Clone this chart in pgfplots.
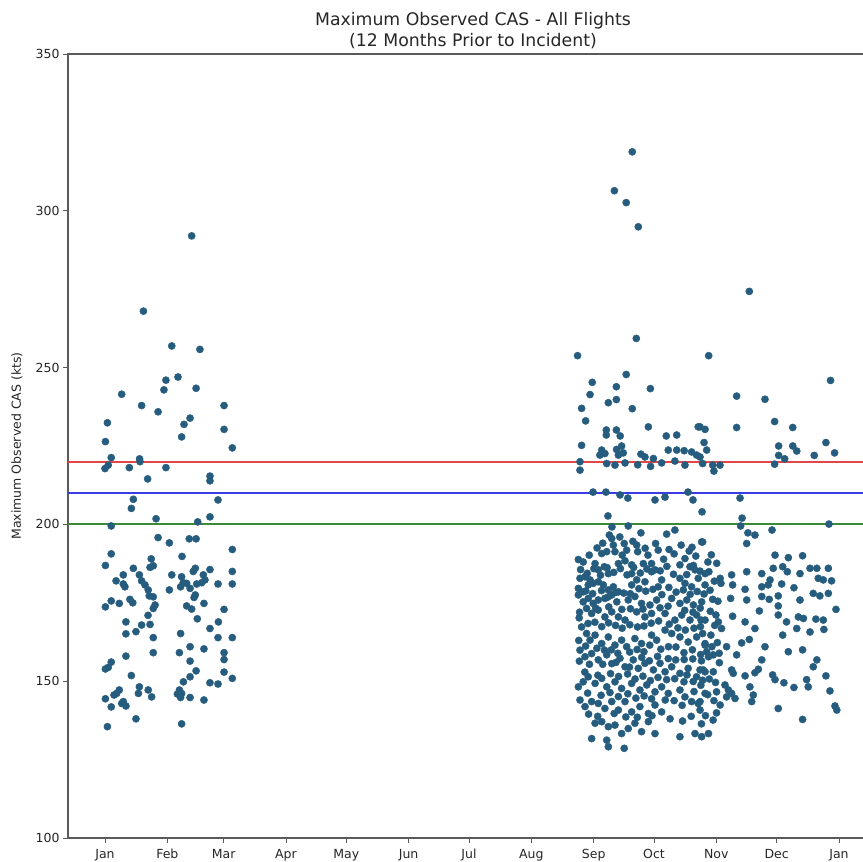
\documentclass[border=0pt]{standalone}
\usepackage{pgfplots}
\pgfplotsset{compat=1.18}
\usepackage{pgfplotstable}
\usepackage{fontspec}
\setmainfont{DejaVu Sans}
\definecolor{dot}{RGB}{38,92,126}
\definecolor{lred}{RGB}{226,70,70}
\definecolor{lblue}{RGB}{60,60,228}
\definecolor{lgreen}{RGB}{58,138,58}
\definecolor{spine}{RGB}{90,90,90}

\pgfplotstableread{
day val
43.1 292.0
19.1 268.0
33.2 256.9
47.2 255.8
30.3 246.0
36.3 247.0
29.3 242.9
45.3 243.4
8.3 241.5
18.2 237.9
26.4 235.9
59.2 237.9
1.2 232.4
42.3 233.9
39.3 231.9
59.2 230.3
38.1 227.9
0.2 226.4
63.3 224.4
3.1 221.3
17.2 220.9
17.4 220.0
1.6 218.9
0.0 217.8
12.1 218.1
30.3 218.1
21.2 214.5
52.2 215.4
52.2 213.9
14.1 208.0
13.1 205.1
56.2 207.8
25.4 201.8
46.1 200.8
52.2 202.4
3.1 199.5
26.4 195.8
32.0 194.1
41.9 195.4
45.3 195.4
63.3 192.0
3.1 190.6
38.3 189.8
0.2 186.9
23.0 189.0
22.4 186.3
24.0 186.8
14.1 186.0
44.9 186.0
43.9 185.0
52.2 185.6
63.3 185.0
9.1 183.9
17.1 183.9
33.2 183.9
38.1 183.3
38.9 181.4
37.6 180.1
48.9 183.9
49.7 182.3
48.1 181.4
45.6 181.0
5.5 182.0
9.1 181.0
9.9 180.1
18.2 182.0
19.9 180.7
21.5 179.1
56.2 181.0
63.3 181.0
32.0 179.1
42.3 179.6
40.6 181.2
22.0 177.2
24.0 176.9
44.9 177.5
44.3 176.7
12.4 176.1
13.8 175.0
3.1 175.6
7.1 174.8
0.2 173.7
24.9 174.3
24.0 173.2
40.6 174.0
43.1 173.0
49.2 174.8
59.2 172.9
21.4 171.0
45.9 169.9
10.4 168.9
18.2 167.9
22.4 168.1
56.4 168.9
52.2 166.8
15.4 165.8
10.4 165.1
37.6 165.2
24.0 163.9
56.2 163.9
63.3 163.9
42.3 161.0
49.2 160.3
37.0 159.1
24.0 159.1
59.2 159.1
59.2 156.9
10.4 158.0
42.3 156.4
3.1 156.1
0.2 153.9
1.6 154.4
45.3 153.3
42.3 151.4
39.0 149.8
59.2 152.9
13.1 151.8
63.3 150.9
52.2 149.5
56.2 149.1
17.1 148.2
16.6 146.1
21.5 147.2
23.2 145.0
7.1 147.2
5.8 146.1
4.5 145.6
37.0 147.2
36.0 145.9
38.1 146.1
37.6 144.8
42.3 144.8
49.2 144.0
0.2 144.4
9.1 143.5
10.4 142.1
8.3 142.9
3.1 141.8
15.4 138.0
1.2 135.5
38.1 136.4
}\earlyflights

\pgfplotstableread{
day val
262.2 318.8
253.3 306.4
259.2 302.6
265.2 294.9
264.2 259.3
235.0 253.8
259.2 247.8
242.3 245.3
254.3 243.9
271.2 243.3
241.2 241.4
254.3 239.8
250.3 238.8
237.0 237.0
262.2 236.9
239.0 233.0
270.2 231.1
249.3 230.1
249.3 228.5
254.3 230.1
256.2 228.2
279.1 228.2
284.3 228.5
295.0 231.1
237.0 225.2
247.0 223.7
248.6 222.6
246.1 222.1
254.4 223.9
256.9 225.0
255.3 222.1
257.7 222.8
266.5 222.4
268.5 221.5
272.7 221.0
280.1 223.7
284.3 223.7
288.0 223.5
291.7 223.1
294.2 222.1
320.4 274.3
300.2 253.8
360.8 245.9
314.1 240.9
328.2 239.9
333.0 232.8
314.1 230.9
342.0 230.9
295.9 231.1
298.4 230.3
297.9 226.1
299.2 223.7
335.0 225.0
335.0 222.0
338.0 220.9
342.0 225.0
344.0 223.4
358.5 226.1
362.8 222.8
352.7 222.0
295.9 221.5
297.2 219.4
302.2 218.9
333.0 219.2
236.2 220.0
236.2 217.3
249.5 219.4
253.6 218.9
258.6 219.6
264.9 219.0
271.3 218.5
276.8 219.6
283.4 220.2
288.4 218.9
242.7 210.3
249.1 210.3
256.1 209.4
260.0 208.4
250.1 202.7
252.1 199.2
273.5 207.8
278.5 208.7
289.9 210.3
292.4 207.8
296.9 204.0
302.8 217.0
305.8 218.9
315.8 208.4
316.8 202.0
319.7 197.3
331.7 198.2
360.0 200.1
}\lateupper

\pgfplotstableread{
day val
260.2 199.5
266.5 197.3
279.3 196.9
283.4 198.2
296.7 194.4
252.0 195.5
252.8 193.4
253.6 191.3
258.2 193.9
259.4 191.8
257.2 190.2
264.4 193.4
264.9 191.3
273.8 193.9
275.1 191.8
280.5 192.0
247.0 190.7
249.5 191.3
235.4 188.8
237.8 188.0
243.7 187.5
245.3 185.5
248.3 186.5
250.3 184.3
255.3 187.5
258.6 188.4
261.9 187.1
267.7 187.5
271.8 187.5
273.5 185.5
285.9 187.1
288.4 189.1
290.9 186.5
293.4 185.5
298.4 184.3
236.2 182.8
238.7 183.3
241.2 182.3
235.4 179.6
237.8 178.5
240.3 180.7
242.8 181.2
245.3 181.7
247.8 180.7
250.3 179.1
252.8 180.1
255.3 178.5
261.9 184.3
264.4 182.3
261.9 180.7
268.5 181.7
271.8 184.9
276.8 182.3
275.1 180.1
285.9 182.8
288.4 181.2
291.7 180.1
295.0 182.8
298.4 180.7
235.4 177.5
237.8 175.3
240.3 176.4
242.8 174.8
245.3 175.9
248.6 176.4
252.0 177.5
254.5 175.3
260.2 175.9
263.5 177.0
266.8 174.8
271.0 174.3
274.3 175.9
281.8 176.4
285.9 174.8
289.3 175.9
292.6 174.3
296.7 175.3
239.5 173.2
242.0 171.6
245.3 172.7
248.6 170.5
252.0 172.1
255.3 170.5
258.6 169.5
264.4 172.1
268.5 170.5
271.8 171.6
278.5 171.6
283.4 169.5
286.8 171.1
290.9 169.5
294.2 171.1
298.4 169.5
237.0 167.3
239.5 165.2
241.2 163.1
243.7 164.7
247.0 162.0
250.3 164.1
253.6 161.5
256.9 163.1
259.4 161.0
263.5 163.6
266.8 162.0
271.8 164.7
274.3 163.1
278.5 166.3
281.8 165.2
285.9 164.1
290.0 162.5
294.2 164.1
298.4 162.0
236.2 159.9
238.7 157.8
242.0 158.8
245.3 156.8
249.5 158.4
252.0 155.6
256.1 157.3
258.6 154.6
262.7 156.8
265.2 154.1
268.5 155.7
272.7 153.6
276.0 155.7
278.5 153.0
281.8 154.6
285.9 152.5
290.0 154.1
294.2 151.4
297.5 153.6
235.4 148.2
237.8 149.8
240.3 151.4
243.7 149.3
247.0 150.9
249.5 148.2
253.6 149.8
256.9 147.7
261.9 149.3
266.0 147.2
269.4 148.8
273.5 146.6
276.8 148.2
280.1 146.1
285.9 147.2
288.4 145.0
291.7 143.5
295.0 142.9
298.4 146.1
236.2 144.0
238.7 141.9
242.0 143.5
245.3 142.9
248.6 141.3
252.0 143.5
255.3 140.8
258.6 143.5
261.9 140.2
266.0 141.9
270.2 139.7
273.5 142.4
276.8 140.2
243.7 136.6
247.0 137.1
250.3 135.5
253.6 136.0
256.9 133.3
260.2 134.9
263.5 136.6
266.8 133.9
270.2 137.1
273.5 133.3
242.0 131.7
249.5 131.2
250.3 129.1
258.2 128.6
285.9 132.3
293.4 133.3
296.7 132.3
236.5 185.6
239.8 184.4
243.1 185.9
246.4 183.8
249.7 186.2
253.0 184.7
256.3 185.9
259.6 183.9
262.9 186.3
266.2 184.5
269.5 185.8
276.1 185.2
279.4 186.6
282.7 184.1
289.3 184.0
292.6 186.9
295.9 185.1
239.1 178.8
242.5 177.9
246.9 178.9
250.0 176.8
253.9 178.3
258.0 178.1
261.2 177.9
265.5 179.5
268.9 178.7
272.5 179.3
276.9 177.6
280.4 179.9
284.0 178.4
287.6 179.1
291.0 177.7
294.5 178.6
297.9 177.8
236.0 172.0
244.0 173.3
250.5 173.7
257.0 172.9
261.3 173.1
267.5 173.0
276.0 173.4
280.0 173.9
288.3 172.6
292.4 172.0
296.0 173.3
235.8 170.2
240.2 168.4
243.6 168.8
247.0 167.4
250.4 168.6
253.9 167.8
257.2 166.9
261.0 168.0
264.8 167.3
268.0 167.6
271.6 168.5
275.3 169.2
280.6 168.2
284.9 167.0
288.6 166.3
292.9 166.9
296.1 167.4
235.6 163.0
239.0 161.2
244.6 160.5
248.4 159.9
251.8 160.0
255.0 158.9
260.9 159.3
264.6 160.1
268.0 159.4
270.9 161.5
276.4 160.2
280.2 161.0
283.9 160.9
287.9 159.1
292.1 160.0
296.2 158.5
235.9 156.4
240.9 155.4
247.5 155.4
254.1 156.0
260.8 154.5
266.9 157.6
270.7 156.5
274.8 157.9
280.1 157.2
283.8 156.8
288.0 156.9
292.3 157.1
296.6 156.5
238.6 152.9
245.1 151.9
251.4 152.4
255.4 151.5
259.9 152.3
263.6 150.7
267.5 151.6
271.2 150.2
275.0 151.2
279.3 150.5
283.3 150.8
287.9 149.8
292.5 149.9
297.2 150.3
240.0 146.2
246.7 145.5
251.1 146.4
255.3 145.1
260.0 146.0
264.0 144.6
268.1 145.3
271.8 144.4
278.6 144.0
283.0 143.8
287.0 142.3
240.5 139.5
245.0 138.8
253.2 139.7
259.0 138.6
264.7 138.5
272.0 139.0
281.0 138.0
287.2 137.3
290.5 191.5
293.8 189.9
301.5 190.3
304.2 187.6
299.8 188.0
303.0 181.9
300.9 179.0
304.8 175.5
301.0 172.3
303.2 167.8
304.5 162.3
301.8 161.0
305.4 158.9
296.3 148.7
300.5 150.7
303.6 149.6
299.7 145.7
302.8 143.8
298.6 139.0
302.4 137.6
296.6 136.4
291.5 138.8
305.9 142.4
292.9 146.7
289.4 152.0
247.5 194.0
250.8 196.6
256.0 196.0
262.5 194.6
268.6 192.4
244.7 192.5
240.8 190.2
270.0 190.2
277.8 188.9
283.0 190.6
286.5 193.4
291.9 192.7
}\latedense

\pgfplotstableread{
day val
297.2 194.4
316.1 199.5
323.2 196.6
319.1 193.9
333.2 190.2
339.8 189.4
346.9 190.0
337.0 186.5
339.3 184.9
332.3 186.0
350.6 186.0
354.0 186.0
359.7 186.0
345.6 184.3
354.7 182.8
357.2 182.3
361.3 182.0
300.3 184.9
319.1 184.9
326.6 184.3
305.9 182.8
306.3 181.2
311.6 183.9
312.1 180.7
330.7 182.3
329.8 180.7
326.6 180.1
336.5 181.0
342.6 179.8
318.3 179.3
352.2 178.0
355.5 177.2
359.7 178.0
302.2 176.1
311.1 176.4
319.1 175.9
326.6 177.0
330.3 176.1
334.8 177.2
334.8 174.0
345.6 175.9
363.5 172.9
325.4 172.4
334.8 171.1
344.8 170.5
347.3 170.0
353.5 169.8
357.2 169.5
303.8 171.1
305.0 168.9
306.6 166.8
312.1 170.7
318.3 168.9
323.2 166.8
337.0 164.7
344.0 166.8
350.6 165.7
357.5 166.5
338.9 168.9
296.4 169.5
297.2 165.2
301.3 164.7
298.4 161.5
299.2 159.4
300.1 157.8
302.5 158.4
309.1 161.0
314.1 158.4
316.6 162.2
320.4 163.3
328.2 161.0
339.8 159.4
346.9 160.0
354.0 156.8
352.2 154.6
295.9 153.6
298.4 153.0
302.5 153.0
305.5 155.9
311.6 153.6
312.4 152.5
326.6 156.8
324.9 153.8
323.2 152.7
318.3 151.7
320.7 148.2
321.6 143.5
322.4 145.6
332.0 152.0
333.2 150.5
337.6 149.5
342.6 148.0
348.9 150.5
349.7 148.2
358.5 151.7
360.5 146.9
363.0 142.1
363.9 140.8
304.1 146.6
308.3 148.8
310.0 147.2
311.6 146.1
313.3 144.5
309.1 145.0
304.1 139.9
295.9 143.5
295.9 140.8
300.1 133.3
334.8 141.3
346.9 137.8
}\latewinter

\begin{document}
\begin{tikzpicture}
\begin{axis}[
  at={(0pt,0pt)}, anchor=south west,
  scale only axis, width=810pt, height=784pt,
  xmin=-18.4, xmax=384.4, ymin=100, ymax=350,
  xtick={0,31,59,90,120,151,181,212,243,273,304,334,365},
  xticklabels={Jan,Feb,Mar,Apr,May,Jun,Jul,Aug,Sep,Oct,Nov,Dec,Jan},
  ytick={100,150,200,250,300,350},
  tick align=outside, major tick length=5pt,
  tick style={spine, line width=0.9pt},
  xtick pos=bottom, ytick pos=left,
  axis line style={spine, line width=1.1pt},
  ticklabel style={font=\fontsize{12.5}{14}\selectfont, text=black!85},
  xticklabel style={text height=9.5pt, text depth=2.5pt, inner sep=2pt, yshift=-4pt},
  /pgf/number format/assume math mode=true,
  title={Maximum Observed CAS - All Flights\\(12 Months Prior to Incident)},
  title style={align=center, font=\fontsize{17.3}{21}\selectfont, text=black!85, yshift=-4pt},
  ylabel={Maximum Observed CAS (kts)},
  ylabel style={at={(axis description cs:-0.063,0.5)}, anchor=center, font=\fontsize{12.5}{14}\selectfont, text=black!85},
  clip=true,
]
\addplot[only marks, mark=*, mark size=3.6pt, draw=dot, fill=dot, mark options={draw=dot, fill=dot}] table[x=day, y=val] {\earlyflights};
\addplot[only marks, mark=*, mark size=3.6pt, draw=dot, fill=dot, mark options={draw=dot, fill=dot}] table[x=day, y=val] {\lateupper};
\addplot[only marks, mark=*, mark size=3.6pt, draw=dot, fill=dot, mark options={draw=dot, fill=dot}] table[x=day, y=val] {\latedense};
\addplot[only marks, mark=*, mark size=3.6pt, draw=dot, fill=dot, mark options={draw=dot, fill=dot}] table[x=day, y=val] {\latewinter};
\addplot[lred, line width=2pt] coordinates {(-30,220) (400,220)};
\addplot[lblue, line width=2pt] coordinates {(-30,210) (400,210)};
\addplot[lgreen, line width=2pt] coordinates {(-30,200) (400,200)};
\end{axis}
\pgfresetboundingbox
\path[use as bounding box] (-68pt,-24pt) rectangle (795pt,838pt);
\end{tikzpicture}
\end{document}
